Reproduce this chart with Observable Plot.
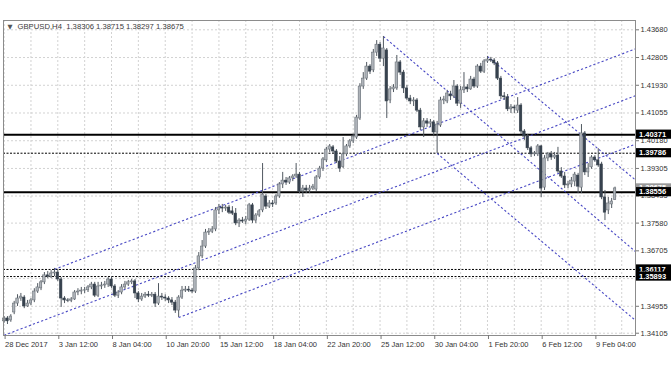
<!DOCTYPE html>
<html>
<head>
<meta charset="utf-8">
<script src="https://cdn.jsdelivr.net/npm/d3@7"></script>
<script src="https://cdn.jsdelivr.net/npm/@observablehq/plot@0.6"></script>
<style>
  html, body { margin: 0; padding: 0; background: #ffffff; }
  svg { display: block; }
</style>
</head>
<body>
<div id="chart"></div>
<script>
// ---- data (GBPUSD, H4) ----
const symbolTitle = "GBPUSD,H4  1.38306 1.38715 1.38297 1.38675";

const open = [
1.3448,1.3457,1.3451,1.3476,1.3504,1.3520,1.3523,1.3495,1.3504,1.3514,
1.3542,1.3552,1.3571,1.3593,1.3589,1.3599,1.3602,1.3580,1.3520,1.3514,
1.3513,1.3517,1.3539,1.3542,1.3545,1.3546,1.3555,1.3564,1.3529,1.3558,
1.3561,1.3564,1.3580,1.3558,1.3529,1.3539,1.3555,1.3564,1.3571,1.3574,
1.3536,1.3517,1.3526,1.3532,1.3529,1.3532,1.3504,1.3526,1.3523,1.3520,
1.3514,1.3507,1.3482,1.3523,1.3545,1.3548,1.3545,1.3542,1.3615,1.3653,
1.3684,1.3728,1.3731,1.3738,1.3798,1.3807,1.3804,1.3807,1.3795,1.3788,
1.3757,1.3766,1.3763,1.3769,1.3814,1.3766,1.3782,1.3798,1.3842,1.3810,
1.3820,1.3820,1.3842,1.3880,1.3892,1.3886,1.3899,1.3905,1.3911,1.3858,
1.3867,1.3861,1.3867,1.3864,1.3902,1.3930,1.3956,1.3990,1.3997,1.3984,
1.3952,1.3935,1.3975,1.4000,1.4016,1.4028,1.4088,1.4189,1.4214,1.4252,
1.4240,1.4296,1.4321,1.4277,1.4303,1.4145,1.4180,1.4183,1.4265,1.4233,
1.4183,1.4151,1.4142,1.4145,1.4113,1.4060,1.4079,1.4072,1.4076,1.4044,
1.4066,1.4145,1.4142,1.4164,1.4158,1.4189,1.4135,1.4177,1.4186,1.4180,
1.4211,1.4189,1.4252,1.4236,1.4268,1.4274,1.4271,1.4262,1.4214,1.4158,
1.4155,1.4117,1.4123,1.4113,1.4129,1.4047,1.4031,1.3994,1.3975,1.3975,
1.4000,1.3870,1.3962,1.3975,1.3965,1.3971,1.3921,1.3905,1.3877,1.3880,
1.3889,1.3908,1.3870,1.4041,1.3918,1.3934,1.3965,1.3956,1.3943,1.3839,
1.3798,1.3817,1.38306];

const high = [
1.3463,1.3463,1.3469,1.3511,1.3532,1.3536,1.3529,1.3514,1.3520,1.3551,
1.3567,1.3577,1.3602,1.3605,1.3608,1.3615,1.3611,1.3586,1.3526,1.3520,
1.3523,1.3545,1.3551,1.3555,1.3555,1.3561,1.3571,1.3571,1.3571,1.3571,
1.3574,1.3586,1.3589,1.3564,1.3545,1.3564,1.3574,1.3577,1.3580,1.3580,
1.3542,1.3536,1.3539,1.3542,1.3539,1.3539,1.3567,1.3536,1.3532,1.3526,
1.3523,1.3514,1.3529,1.3558,1.3558,1.3558,1.3552,1.3624,1.3665,1.3703,
1.3738,1.3741,1.3747,1.3807,1.3817,1.3817,1.3814,1.3814,1.3810,1.3804,
1.3772,1.3776,1.3779,1.3820,1.3820,1.3788,1.3801,1.3946,1.3848,1.3829,
1.3829,1.3848,1.3886,1.3918,1.3902,1.3905,1.3911,1.3946,1.3918,1.3877,
1.3877,1.3877,1.3880,1.3908,1.3937,1.3965,1.3997,1.4006,1.4003,1.3990,
1.3968,1.4028,1.4006,1.4022,1.4038,1.4098,1.4198,1.4233,1.4265,1.4258,
1.4306,1.4334,1.4328,1.4347,1.4309,1.4189,1.4195,1.4287,1.4271,1.4240,
1.4192,1.4161,1.4154,1.4151,1.4120,1.4088,1.4088,1.4085,1.4082,1.4079,
1.4155,1.4158,1.4177,1.4174,1.4208,1.4195,1.4189,1.4233,1.4195,1.4221,
1.4218,1.4258,1.4262,1.4274,1.4284,1.4281,1.4277,1.4268,1.4221,1.4170,
1.4164,1.4132,1.4129,1.4154,1.4135,1.4053,1.4038,1.4000,1.3984,1.4006,
1.4003,1.3971,1.3981,1.3984,1.3981,1.3997,1.3933,1.3918,1.3889,1.3902,
1.3918,1.3915,1.4069,1.4047,1.3946,1.3971,1.3971,1.3993,1.3950,1.3861,
1.3839,1.3836,1.38715];

const low = [
1.3442,1.3438,1.3445,1.3469,1.3495,1.3511,1.3488,1.3492,1.3498,1.3507,
1.3536,1.3545,1.3564,1.3583,1.3583,1.3589,1.3574,1.3492,1.3504,1.3507,
1.3507,1.3514,1.3529,1.3532,1.3536,1.3539,1.3548,1.3523,1.3523,1.3548,
1.3552,1.3555,1.3552,1.3523,1.3520,1.3532,1.3548,1.3558,1.3564,1.3520,
1.3507,1.3511,1.3520,1.3523,1.3523,1.3492,1.3498,1.3514,1.3511,1.3504,
1.3498,1.3473,1.3460,1.3517,1.3539,1.3539,1.3536,1.3536,1.3608,1.3646,
1.3678,1.3719,1.3725,1.3731,1.3785,1.3791,1.3795,1.3785,1.3782,1.3750,
1.3744,1.3757,1.3753,1.3763,1.3757,1.3757,1.3776,1.3791,1.3801,1.3804,
1.3807,1.3814,1.3836,1.3867,1.3877,1.3880,1.3889,1.3899,1.3851,1.3839,
1.3851,1.3851,1.3861,1.3858,1.3896,1.3921,1.3949,1.3981,1.3975,1.3946,
1.3918,1.3930,1.3968,1.3994,1.4009,1.4022,1.4082,1.4180,1.4208,1.4227,
1.4233,1.4284,1.4265,1.4252,1.4088,1.4135,1.4170,1.4177,1.4224,1.4167,
1.4145,1.4132,1.4126,1.4107,1.4050,1.4028,1.4060,1.4060,1.4034,1.3978,
1.4060,1.4132,1.4135,1.4145,1.4151,1.4126,1.4120,1.4167,1.4170,1.4177,
1.4183,1.4183,1.4230,1.4230,1.4262,1.4265,1.4255,1.4208,1.4148,1.4145,
1.4110,1.4104,1.4104,1.4104,1.4038,1.4019,1.3987,1.3965,1.3968,1.3968,
1.3839,1.3861,1.3952,1.3956,1.3959,1.3915,1.3899,1.3867,1.3867,1.3870,
1.3873,1.3851,1.3851,1.3908,1.3902,1.3928,1.3950,1.3934,1.3832,1.3766,
1.3785,1.3804,1.38297];

const close = [
1.3457,1.3448,1.3463,1.3504,1.3520,1.3526,1.3495,1.3504,1.3514,1.3542,
1.3555,1.3571,1.3593,1.3589,1.3599,1.3602,1.3580,1.3520,1.3514,1.3513,
1.3517,1.3539,1.3542,1.3545,1.3546,1.3555,1.3564,1.3529,1.3558,1.3561,
1.3564,1.3580,1.3558,1.3529,1.3539,1.3555,1.3564,1.3571,1.3574,1.3536,
1.3517,1.3526,1.3532,1.3529,1.3532,1.3504,1.3526,1.3523,1.3520,1.3514,
1.3507,1.3482,1.3523,1.3545,1.3548,1.3545,1.3542,1.3615,1.3653,1.3684,
1.3728,1.3731,1.3738,1.3798,1.3807,1.3804,1.3807,1.3791,1.3788,1.3757,
1.3766,1.3763,1.3769,1.3814,1.3766,1.3782,1.3795,1.3848,1.3810,1.3820,
1.3817,1.3842,1.3880,1.3892,1.3886,1.3899,1.3905,1.3911,1.3858,1.3867,
1.3861,1.3867,1.3873,1.3902,1.3930,1.3959,1.3990,1.4000,1.3984,1.3952,
1.3930,1.3975,1.4000,1.4016,1.4031,1.4091,1.4189,1.4214,1.4252,1.4236,
1.4296,1.4321,1.4277,1.4309,1.4142,1.4180,1.4186,1.4265,1.4233,1.4183,
1.4151,1.4142,1.4145,1.4113,1.4060,1.4079,1.4072,1.4076,1.4044,1.4069,
1.4145,1.4148,1.4167,1.4158,1.4189,1.4135,1.4177,1.4186,1.4180,1.4211,
1.4189,1.4252,1.4236,1.4268,1.4274,1.4271,1.4262,1.4214,1.4158,1.4155,
1.4117,1.4123,1.4120,1.4129,1.4047,1.4031,1.3994,1.3975,1.3978,1.4000,
1.3867,1.3962,1.3975,1.3965,1.3971,1.3921,1.3905,1.3877,1.3880,1.3892,
1.3911,1.3873,1.4041,1.3918,1.3930,1.3965,1.3956,1.3940,1.3839,1.3791,
1.3820,1.3826,1.38675];

// x axis: bar index of each date label
const xTickBars = [0, 16, 32, 48, 64, 80, 96, 112, 128, 144, 160, 176];
const xTickLabels = ["28 Dec 2017", "3 Jan 12:00", "8 Jan 04:00", "10 Jan 20:00", "15 Jan 12:00",
  "18 Jan 04:00", "22 Jan 20:00", "25 Jan 12:00", "30 Jan 04:00", "1 Feb 20:00", "6 Feb 12:00", "9 Feb 04:00"];
const xGridBars = [0, 8, 16, 24, 32, 40, 48, 56, 64, 72, 80, 88, 96, 104, 112, 120, 128, 136, 144, 152, 160, 168, 176, 184];

// y axis: grid prices and the price labels shown
const yGridValues = [1.43680, 1.42805, 1.41930, 1.41055, 1.40180, 1.39305, 1.38435, 1.37580, 1.36705, 1.35830, 1.34955, 1.34105];
const yTickValues = [1.43680, 1.42805, 1.41930, 1.41055, 1.40180, 1.39305, 1.38435, 1.37580, 1.36705, 1.34955, 1.34105];

// horizontal levels
const solidLevels = [1.40371, 1.38556];
const dashedLevels = [1.39786, 1.36117, 1.35893];
const lastPrice = 1.38675;

// trend / channel lines: start and end (bar index, price)
const lineStartBar   = [15,     0,      52,     113,    144,    129];
const lineStartPrice = [1.3612, 1.3404, 1.3460, 1.4347, 1.4284, 1.3978];
const lineEndBar     = [188.1,  188.1,  188.1,  188.1,  188.1,  188.1];
const lineEndPrice   = [1.4308, 1.4160, 1.4007, 1.3668, 1.3894, 1.3451];

// ---- build ----
const FONT = "'Liberation Sans', Arial, sans-serif";
const candles = open.map((o, i) => ({i, open: o, high: high[i], low: low[i], close: close[i]}));
const lines = lineStartBar.map((b, k) => ({x1: b, y1: lineStartPrice[k], x2: lineEndBar[k], y2: lineEndPrice[k]}));

const W = 672, H = 372, MT = 20, MB = 37, ML = 3, MR = 37;

const chart = Plot.plot({
  width: W, height: H,
  marginTop: MT, marginBottom: MB, marginLeft: ML, marginRight: MR,
  x: {domain: [-0.18, 188.1]},
  y: {domain: [1.34033, 1.43974]},
  style: {fontFamily: FONT, fontSize: "7.5px", color: "#333", background: "#fff", overflow: "visible"},
  marks: [
    Plot.ruleY(yGridValues, {stroke: "#d2d2d2", strokeDasharray: "2,2"}),
    Plot.ruleX(xGridBars, {stroke: "#d2d2d2", strokeDasharray: "2,2"}),
    Plot.ruleY(dashedLevels, {stroke: "#000", strokeWidth: 1, strokeDasharray: "2,1.5"}),
    Plot.ruleY(solidLevels, {stroke: "#000", strokeWidth: 2}),
    Plot.link(lines, {x1: "x1", y1: "y1", x2: "x2", y2: "y2", stroke: "#4848c4", strokeWidth: 1.1, strokeDasharray: "2.2,2.2", clip: true}),
    Plot.ruleX(candles, {x: "i", y1: "low", y2: "high", stroke: "#505860", strokeWidth: 1}),
    Plot.rect(candles, {
      x1: d => d.i - 0.37, x2: d => d.i + 0.37,
      y1: "open", y2: "close",
      fill: d => d.close >= d.open ? "#aeb3b9" : "#37424e",
      stroke: d => d.close >= d.open ? "#6a7178" : "#37424e",
      strokeWidth: 0.6
    }),
    Plot.frame({stroke: "#8c8c8c"}),
    Plot.axisY({anchor: "right", ticks: yTickValues, tickFormat: d => d.toFixed(5), tickSize: 3, tickPadding: 2, label: null, stroke: "#777"}),
    Plot.axisX({anchor: "bottom", ticks: xTickBars, tickFormat: d => xTickLabels[xTickBars.indexOf(d)], tickSize: 4, tickPadding: 2, textAnchor: "start", dx: 1, label: null, stroke: "#777"}),
    Plot.text(["\u25BC"], {frameAnchor: "top-left", dx: 4, dy: 4, fontSize: 6.5, fill: "#555", textAnchor: "start", fontFamily: "DejaVu Sans"}),
    Plot.text([symbolTitle], {frameAnchor: "top-left", dx: 14, dy: 3, fontSize: 7.7, fill: "#3a3a3a", textAnchor: "start"})
  ]
});

document.getElementById("chart").appendChild(chart);

// price label boxes on the right axis, positioned with the plot's y scale
const yScale = chart.scale("y");
const priceBoxes = [
  {value: lastPrice, fill: "#9a9a9a"},
  {value: 1.40371, fill: "#000"},
  {value: 1.39786, fill: "#000"},
  {value: 1.38556, fill: "#000"},
  {value: 1.36117, fill: "#000"},
  {value: 1.35893, fill: "#000"}
];
const gBox = d3.select(chart).append("g")
  .attr("font-family", FONT).attr("font-size", 7.5).attr("text-anchor", "start");
const boxX = W - MR + 1;
priceBoxes.forEach(b => {
  const yy = yScale.apply(b.value);
  gBox.append("rect").attr("x", boxX).attr("y", yy - 4.6).attr("width", 35).attr("height", 9.2).attr("fill", b.fill);
  gBox.append("text").attr("x", boxX + 3).attr("y", yy).attr("dy", "0.34em")
    .attr("text-anchor", "start").attr("fill", "#fff").attr("font-weight", "bold").text(b.value.toFixed(5));
});
</script>
</body>
</html>
